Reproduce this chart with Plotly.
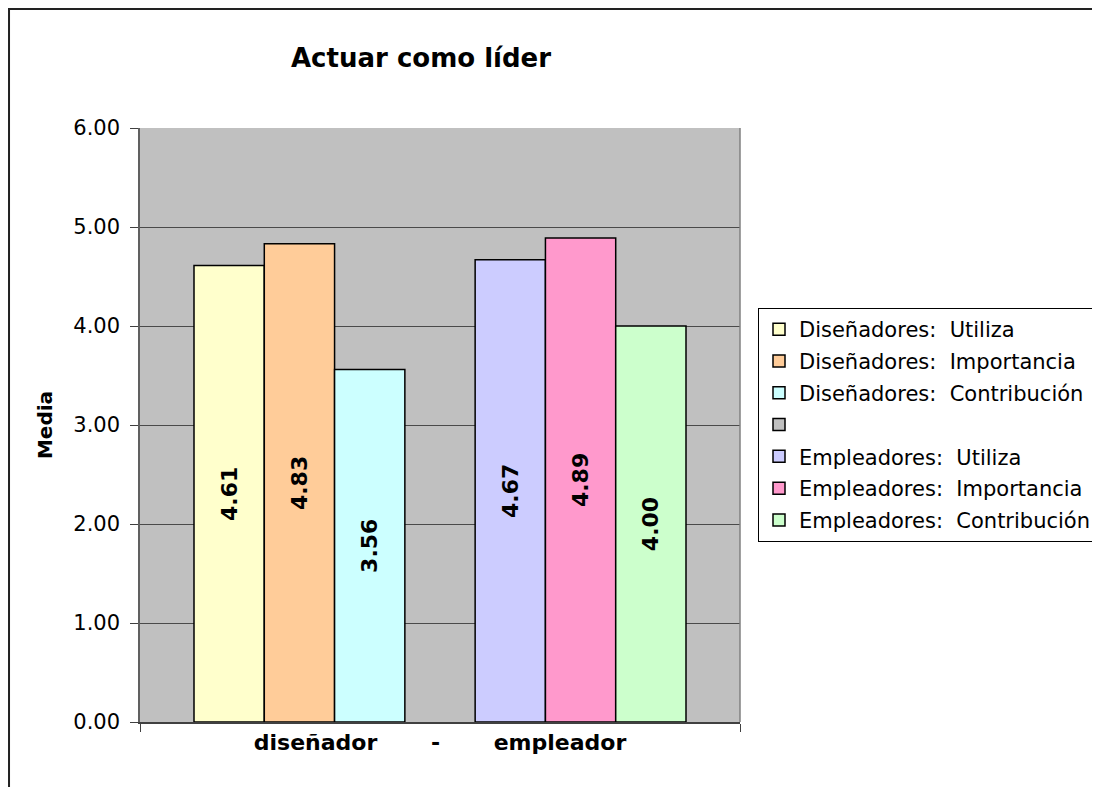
import plotly.graph_objects as go

# %%
categoria = [""]
series = [
    "Diseñadores:\u00a0\u00a0Utiliza",
    "Diseñadores:\u00a0\u00a0Importancia",
    "Diseñadores:\u00a0\u00a0Contribución",
    "",
    "Empleadores:\u00a0\u00a0Utiliza",
    "Empleadores:\u00a0\u00a0Importancia",
    "Empleadores:\u00a0\u00a0Contribución",
]
medias = [4.61, 4.83, 3.56, None, 4.67, 4.89, 4.00]
colores = ["#FFFFCC", "#FFCC99", "#CCFFFF", "#C0C0C0",
           "#CCCCFF", "#FF99CC", "#CCFFCC"]

FONT = "DejaVu Sans"

# %%
fig = go.Figure()
for i, (nombre, valor, color) in enumerate(zip(series, medias, colores)):
    fig.add_trace(go.Bar(
        x=categoria, y=[valor], name=nombre,
        marker=dict(color=color, line=dict(color="black", width=1.5)),
        texttemplate="<b>%{y:.2f}</b>", textposition="inside",
        textangle=-90, insidetextanchor="middle",
        textfont=dict(family=FONT, size=22, color="black"),
        legendgroup=f"g{i}",
    ))

fig.update_layout(
    width=1100, height=787,
    margin=dict(l=132, r=368, t=120, b=73, autoexpand=False),
    paper_bgcolor="white", plot_bgcolor="#C0C0C0",
    barmode="group", bargap=0.18, bargroupgap=0,
    font=dict(family=FONT, size=21, color="black"),
    title=dict(text="<b>Actuar como líder</b>", x=0.3755, xanchor="center",
               y=0.9365, yanchor="middle",
               font=dict(family=FONT, size=26, color="black")),
    legend=dict(x=1.03, xanchor="left", y=0.697, yanchor="top",
                bordercolor="black", borderwidth=1, bgcolor="white",
                font=dict(family=FONT, size=21), tracegroupgap=1.5,
                traceorder="grouped"),
    showlegend=True,
)

fig.update_xaxes(
    showticklabels=False, showgrid=False, tickson="boundaries",
    ticks="outside", ticklen=8, tickcolor="#404040",
    showline=True, linecolor="#404040", linewidth=1.5, mirror=False,
    title=dict(text="<b>diseñador\u00a0\u00a0\u00a0\u00a0\u00a0\u00a0\u00a0-"
                    "\u00a0\u00a0\u00a0\u00a0\u00a0\u00a0\u00a0empleador</b>",
               font=dict(family=FONT, size=22), standoff=12),
)
fig.update_yaxes(
    range=[0, 6], dtick=1, tickformat=".2f",
    ticks="outside", ticklen=8, tickcolor="#404040", ticklabelstandoff=6,
    showgrid=True, gridcolor="#4A4A4A", gridwidth=1.4,
    showline=True, linecolor="#606060", linewidth=1.5,
    tickfont=dict(family=FONT, size=21),
    title=dict(text="<b>Media</b>", font=dict(family=FONT, size=20),
               standoff=15),
    zeroline=False,
)

# right edge of the plot area
fig.add_shape(type="line", xref="paper", yref="paper", x0=1, x1=1, y0=0, y1=1,
              line=dict(color="#808080", width=1.5))
# outer chart border
fig.add_shape(type="rect", xref="paper", yref="paper",
              x0=-0.2183, x1=2.0, y0=-0.5, y1=1.2003,
              line=dict(color="#222222", width=2), layer="above")

fig.write_html("out.html")
